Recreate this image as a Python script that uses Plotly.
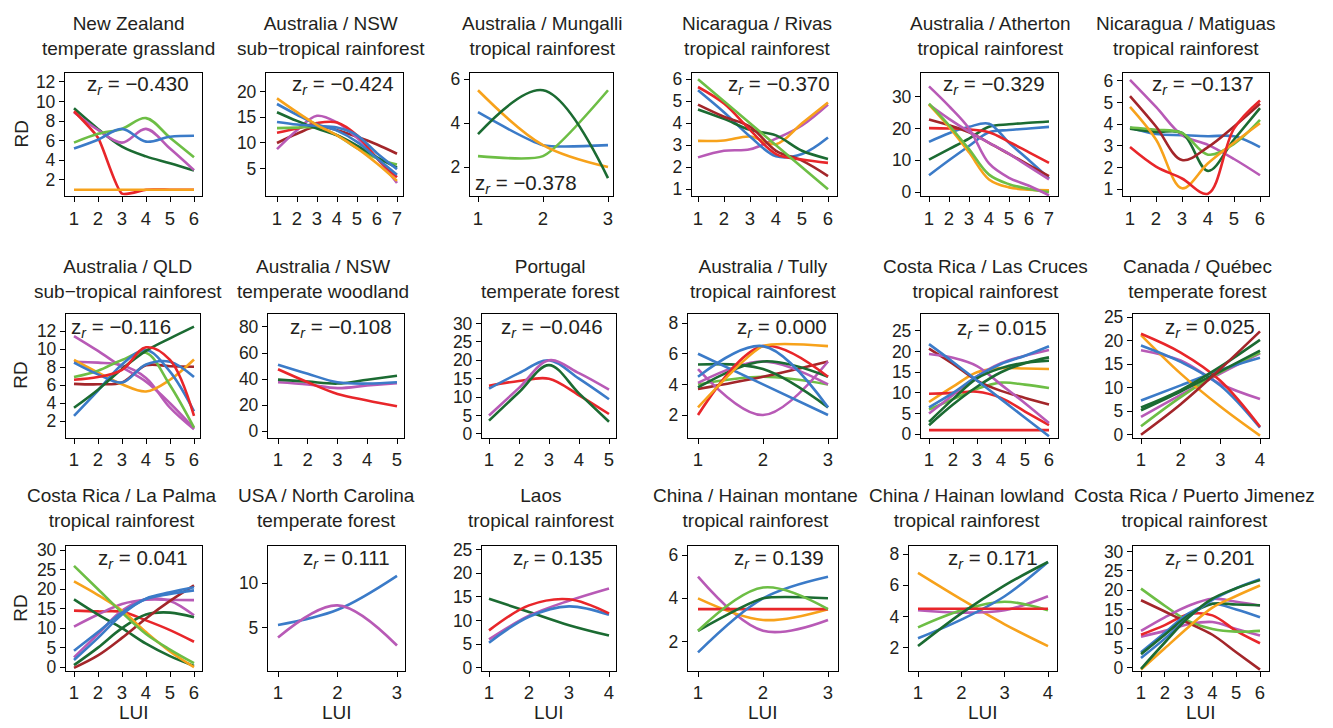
import plotly.graph_objects as go

W, H = 1333, 728
FONT = "Liberation Sans, Arial, Helvetica, sans-serif"
TXT = "#231F20"
COL = dict(red="#E8262A", blue="#3B7BC8", green="#6DBE45", dgreen="#1B6B32",
           orange="#F7A21B", magenta="#B85AB6", dred="#A3262A")

# ---------------- data ----------------
titles = [
    "New Zealand<br>temperate grassland", "Australia / NSW<br>sub\u2212tropical rainforest",
    "Australia / Mungalli<br>tropical rainforest", "Nicaragua / Rivas<br>tropical rainforest",
    "Australia / Atherton<br>tropical rainforest", "Nicaragua / Matiguas<br>tropical rainforest",
    "Australia / QLD<br>sub\u2212tropical rainforest", "Australia / NSW<br>temperate woodland",
    "Portugal<br>temperate forest", "Australia / Tully<br>tropical rainforest",
    "Costa Rica / Las Cruces<br>tropical rainforest", "Canada / Québec<br>temperate forest",
    "Costa Rica / La Palma<br>tropical rainforest", "USA / North Carolina<br>temperate forest",
    "Laos<br>tropical rainforest", "China / Hainan montane<br>tropical rainforest",
    "China / Hainan lowland<br>tropical rainforest", "Costa Rica / Puerto Jimenez<br>tropical rainforest",
]
z_values = ["\u22120.430", "\u22120.424", "\u22120.378", "\u22120.370", "\u22120.329", "\u22120.137",
            "\u22120.116", "\u22120.108", "\u22120.046", "0.000", "0.015", "0.025",
            "0.041", "0.111", "0.135", "0.139", "0.171", "0.201"]
n_levels = [6, 7, 3, 6, 7, 6, 6, 5, 5, 3, 6, 4, 6, 3, 4, 3, 4, 6]

p01 = [("dgreen", [9.3, 7.2, 5.4, 4.4, 3.7, 2.95]),
       ("magenta", [8.9, 7.1, 5.8, 7.2, 5.2, 3.0]),
       ("red", [9.0, 6.3, 0.6, 1.0, 1.0, 1.0]),
       ("green", [5.8, 6.7, 7.2, 8.3, 6.3, 4.3]),
       ("blue", [5.2, 6.1, 7.2, 5.9, 6.4, 6.5]),
       ("orange", [1.0, 1.0, 1.0, 1.0, 1.0, 1.0])]
p02 = [("dred", [10.0, 11.8, 13.2, 12.5, 11.2, 9.7, 7.9]),
       ("magenta", [8.8, 12.5, 15.3, 14.0, 11.0, 7.0, 2.2]),
       ("red", [12.0, 12.8, 13.9, 14.0, 11.5, 7.0, 3.3]),
       ("green", [12.9, 13.0, 13.0, 11.5, 9.0, 7.0, 5.8]),
       ("dgreen", [16.0, 14.3, 12.8, 11.5, 9.5, 7.2, 5.2]),
       ("blue", [14.1, 13.6, 13.3, 13.0, 11.5, 8.0, 4.9]),
       ("blue", [17.6, 15.5, 13.6, 12.4, 10.2, 7.0, 3.8]),
       ("orange", [18.7, 16.0, 13.5, 11.5, 9.0, 6.0, 2.6])]
p03 = [("blue", [4.5, 3.0, 3.0]),
       ("green", [2.5, 2.5, 5.5]),
       ("orange", [5.5, 3.0, 2.0]),
       ("dgreen", [3.5, 5.5, 1.5])]
p04 = [("magenta", [2.45, 2.75, 2.82, 3.3, 3.9, 4.85]),
       ("orange", [3.2, 3.22, 3.4, 3.05, 4.0, 4.95]),
       ("blue", [5.5, 4.5, 3.4, 2.5, 2.6, 3.35]),
       ("dgreen", [4.63, 4.2, 3.7, 3.45, 2.75, 2.38]),
       ("dred", [4.85, 4.3, 3.85, 2.75, 2.3, 1.6]),
       ("red", [5.65, 4.9, 3.7, 2.6, 2.35, 2.2]),
       ("green", [6.0, 5.0, 4.0, 3.0, 2.0, 1.0])]
p05 = [("blue", [5.3, 10.0, 14.5, 18.8, 19.5, 20.0, 20.5]),
       ("dgreen", [10.2, 13.5, 16.8, 20.5, 21.3, 21.8, 22.2]),
       ("blue", [15.8, 18.5, 20.5, 21.5, 15.5, 10.0, 4.3]),
       ("red", [20.1, 20.0, 19.7, 18.8, 15.8, 12.5, 9.2]),
       ("dred", [22.8, 21.0, 18.8, 15.5, 12.0, 8.5, 5.0]),
       ("magenta", [27.5, 23.0, 19.0, 15.5, 12.0, 8.0, 4.0]),
       ("orange", [27.5, 20.5, 12.5, 4.0, 1.5, 0.8, 0.6]),
       ("green", [27.8, 21.0, 13.5, 5.5, 2.5, 1.0, 0.0]),
       ("magenta", [33.2, 27.0, 20.0, 9.0, 4.5, 2.0, -1.0])]
p06 = [("blue", [3.85, 3.55, 3.5, 3.45, 3.45, 2.95]),
       ("magenta", [6.05, 4.8, 3.5, 3.05, 2.4, 1.65]),
       ("dgreen", [3.8, 3.65, 3.6, 1.85, 3.3, 4.75]),
       ("green", [3.85, 3.75, 3.6, 2.6, 3.1, 4.2]),
       ("dred", [5.3, 3.9, 2.35, 2.95, 3.9, 4.95]),
       ("orange", [4.8, 3.3, 1.05, 2.2, 3.15, 4.05]),
       ("red", [2.95, 2.05, 1.5, 0.8, 3.8, 5.1])]
p07 = [("dred", [6.15, 6.1, 6.3, 8.2, 8.1, 8.05]),
       ("magenta", [11.45, 9.8, 8.0, 6.4, 4.0, 1.2]),
       ("magenta", [8.6, 8.5, 8.2, 6.8, 3.5, 1.1]),
       ("orange", [8.8, 7.4, 6.1, 5.3, 6.6, 8.85]),
       ("green", [6.9, 7.6, 8.8, 9.6, 6.0, 1.3]),
       ("blue", [8.5, 7.2, 6.3, 8.3, 8.6, 6.9]),
       ("blue", [2.6, 5.4, 8.3, 9.9, 7.5, 3.1]),
       ("dgreen", [3.5, 5.5, 7.8, 9.8, 11.2, 12.5]),
       ("red", [6.6, 6.9, 7.7, 10.2, 8.8, 2.6])]
p08 = [("magenta", [37.5, 35.8, 33.0, 35.0, 36.8]),
       ("dgreen", [39.5, 38.0, 36.5, 39.5, 42.5]),
       ("blue", [51.0, 44.0, 37.5, 36.5, 37.5]),
       ("red", [47.5, 37.5, 28.5, 23.5, 19.0])]
p09 = [("red", [13.1, 14.4, 15.0, 10.5, 5.4]),
       ("blue", [12.3, 16.5, 20.0, 15.0, 9.4]),
       ("magenta", [5.0, 12.5, 20.0, 16.5, 12.0]),
       ("dgreen", [3.6, 11.3, 18.7, 11.0, 3.3])]
p10 = [("green", [4.0, 4.5, 4.0]),
       ("dred", [3.7, 4.5, 5.5]),
       ("magenta", [4.1, 5.5, 4.0]),
       ("magenta", [5.0, 2.0, 5.5]),
       ("dgreen", [5.3, 5.0, 2.5]),
       ("dgreen", [3.8, 5.5, 4.5]),
       ("blue", [6.0, 4.0, 2.0]),
       ("red", [2.0, 6.5, 4.5]),
       ("orange", [2.5, 6.5, 6.5]),
       ("blue", [4.5, 6.5, 2.5])]
p11 = [("red", [1.0, 1.0, 1.0, 1.0, 1.0, 1.0]),
       ("green", [6.0, 8.5, 11.0, 12.5, 12.0, 11.2]),
       ("orange", [7.8, 11.5, 15.0, 16.0, 15.9, 15.8]),
       ("dred", [20.7, 17.0, 13.0, 10.5, 8.8, 7.2]),
       ("red", [9.8, 10.0, 10.3, 8.8, 5.5, 2.2]),
       ("magenta", [19.4, 18.5, 16.5, 12.0, 7.5, 2.7]),
       ("magenta", [5.0, 9.5, 14.0, 17.2, 19.0, 20.4]),
       ("blue", [6.5, 10.0, 14.0, 17.0, 19.0, 21.3]),
       ("dgreen", [3.0, 8.5, 13.5, 16.0, 17.3, 17.8]),
       ("dgreen", [2.2, 7.2, 11.5, 15.0, 17.2, 18.6]),
       ("blue", [21.8, 17.5, 13.0, 8.5, 4.0, -0.5])]
p12 = [("magenta", [3.8, 8.5, 13.0, 17.3]),
       ("green", [1.8, 8.0, 13.3, 17.5]),
       ("blue", [7.3, 10.5, 13.8, 16.4]),
       ("magenta", [18.0, 15.8, 10.8, 7.6]),
       ("orange", [21.2, 13.0, 6.0, -0.2]),
       ("blue", [19.0, 15.5, 10.5, 1.5]),
       ("red", [21.5, 17.5, 11.5, 1.7]),
       ("dgreen", [5.2, 9.2, 13.5, 17.9]),
       ("dgreen", [5.8, 9.5, 14.5, 20.2]),
       ("dred", [0.0, 6.5, 14.0, 22.0])]
p13 = [("red", [14.5, 14.3, 14.2, 12.0, 9.5, 6.5]),
       ("magenta", [10.4, 13.5, 16.2, 17.3, 17.3, 17.2]),
       ("magenta", [2.5, 8.5, 14.5, 17.5, 17.0, 13.3]),
       ("dgreen", [17.4, 13.5, 10.0, 6.0, 2.8, 0.3]),
       ("dgreen", [0.5, 5.0, 10.0, 13.5, 14.0, 12.8]),
       ("dred", [-0.2, 3.0, 7.5, 12.5, 17.0, 21.0]),
       ("orange", [22.0, 18.5, 14.5, 9.0, 4.0, 0.0]),
       ("green", [26.0, 20.0, 14.0, 8.5, 4.5, 1.0]),
       ("blue", [1.8, 7.5, 13.5, 17.6, 19.2, 20.5]),
       ("blue", [4.2, 9.0, 14.0, 17.5, 18.8, 19.7])]
p14 = [("blue", [5.3, 7.0, 10.8]),
       ("magenta", [3.9, 7.5, 3.0])]
p15 = [("dgreen", [14.6, 11.8, 9.0, 6.8]),
       ("magenta", [6.0, 11.0, 14.2, 16.8]),
       ("blue", [5.3, 10.8, 13.0, 11.2]),
       ("red", [7.9, 13.2, 14.5, 11.5])]
p16 = [("magenta", [5.0, 2.5, 3.0]),
       ("orange", [4.0, 3.0, 3.5]),
       ("red", [3.5, 3.5, 3.5]),
       ("blue", [1.5, 4.0, 5.0]),
       ("dgreen", [2.5, 4.0, 4.0]),
       ("green", [2.5, 4.5, 3.5])]
p17 = [("orange", [6.8, 5.1, 3.5, 2.1]),
       ("magenta", [4.4, 4.25, 4.4, 5.3]),
       ("green", [3.3, 4.4, 4.95, 4.4]),
       ("blue", [2.6, 3.8, 5.3, 7.5]),
       ("red", [4.5, 4.5, 4.5, 4.5]),
       ("dgreen", [2.1, 4.2, 6.0, 7.5])]
p18 = [("magenta", [8.0, 9.5, 11.2, 11.8, 10.0, 8.3]),
       ("red", [8.5, 11.0, 13.8, 13.5, 9.5, 6.3]),
       ("green", [20.4, 16.0, 12.0, 10.0, 9.3, 9.5]),
       ("magenta", [9.5, 13.0, 16.0, 17.8, 17.0, 16.0]),
       ("dred", [17.4, 14.5, 11.5, 8.5, 4.0, -0.5]),
       ("blue", [4.0, 9.0, 14.0, 16.5, 15.0, 13.0]),
       ("dgreen", [3.5, 8.5, 13.5, 16.5, 16.3, 16.1]),
       ("orange", [-0.5, 5.0, 10.5, 15.5, 18.5, 21.2]),
       ("blue", [2.5, 7.5, 13.0, 17.5, 20.5, 22.8]),
       ("dgreen", [-0.3, 6.5, 13.0, 17.8, 20.5, 22.6])]
series = [p01, p02, p03, p04, p05, p06, p07, p08, p09, p10, p11, p12, p13, p14, p15, p16, p17, p18]

y_ticks = [[2, 4, 6, 8, 10, 12], [5, 10, 15, 20], [2, 4, 6], [1, 2, 3, 4, 5, 6],
           [0, 10, 20, 30], [1, 2, 3, 4, 5, 6],
           [2, 4, 6, 8, 10, 12], [0, 20, 40, 60, 80], [0, 5, 10, 15, 20, 25, 30], [2, 4, 6, 8],
           [0, 5, 10, 15, 20, 25], [0, 5, 10, 15, 20, 25],
           [0, 5, 10, 15, 20, 25, 30], [5, 10], [0, 5, 10, 15, 20, 25], [2, 4, 6],
           [2, 4, 6, 8], [0, 5, 10, 15, 20, 25, 30]]

# ---------------- layout geometry (pixels) and styles ----------------
y_ranges = [(0.33, 12.93), (-0.4, 23.7), (0.67, 6.3), (0.68, 6.3), (-1.3, 37.5), (0.68, 6.38),
            (0.19, 13.9), (-5, 90), (-1, 32.6), (0.53, 8.6), (-0.8, 29.1), (-0.6, 25.7),
            (-1, 31), (0.15, 14.1), (-0.7, 25.7), (0.64, 6.4), (0.5, 8.5), (-0.85, 31.3)]
box_x = [(65, 202), (266, 403), (470, 613), (692, 837), (921, 1058), (1123, 1269),
         (66, 200), (268, 404), (482, 616), (688, 837), (921, 1058), (1133, 1269),
         (66, 202), (268, 405), (482, 616), (688, 838), (909, 1057), (1133, 1269)]
data_x = [(74, 194), (277, 397), (478, 608), (698, 828), (929, 1049), (1130, 1260),
          (74, 194), (278, 397), (489, 609), (698, 828), (929, 1049), (1141, 1260),
          (74, 194), (278, 397), (489, 609), (698, 828), (918, 1048), (1141, 1260)]
row_y = [(67, 193), (313, 439), (550, 677)]
title_y = [30, 277, 511]
title_x = [128, 331, 542, 757, 990, 1186,
           128, 323, 550, 763, 985, 1197,
           121, 326, 541, 755, 966, 1194]
z_pos = [(138, 80), (343, 80), (526, 180), (779, 80), (994, 80), (1203, 80),
         (121, 327), (341, 327), (552, 327), (782, 327), (1002, 328), (1210, 327),
         (143, 563), (347, 563), (558, 563), (779, 563), (993, 563), (1210, 563)]
# traces with flat stretches get a gentler spline to avoid overshoot
low_smooth = {(0, 2), (2, 0), (2, 1), (9, 8), (15, 4), (15, 2)}

fig = go.Figure()
annotations = []
layout = {}
for i in range(18):
    n = n_levels[i]
    lui = list(range(1, n + 1))
    ax = "" if i == 0 else str(i + 1)
    row = i // 6
    left, right = box_x[i]
    x1, xn = data_x[i]
    upx = (xn - x1) / (n - 1)
    xr = [1 - (x1 - left) / upx, n + (right - xn) / upx]
    top, bot = row_y[row]
    for j, (cname, vals) in enumerate(series[i]):
        sm = 0.55 if (i, j) in low_smooth else 1.0
        fig.add_trace(go.Scatter(x=lui, y=vals, mode="lines", xaxis="x" + ax, yaxis="y" + ax,
                                 line=dict(color=COL[cname], width=2.6, shape="spline", smoothing=sm),
                                 showlegend=False, hoverinfo="skip"))
    common = dict(showline=True, mirror=True, linecolor="black", linewidth=1.3, ticks="outside",
                  ticklen=5, tickwidth=1.2, tickcolor="black", showgrid=False, zeroline=False)
    layout["xaxis" + ax] = dict(domain=[left / W, right / W], range=xr, anchor="y" + ax,
                                tickmode="array", tickvals=lui,
                                tickfont=dict(family=FONT, size=18.5, color=TXT), **common)
    layout["yaxis" + ax] = dict(domain=[1 - bot / H, 1 - top / H], range=list(y_ranges[i]),
                                anchor="x" + ax, tickmode="array", tickvals=y_ticks[i],
                                tickfont=dict(family=FONT, size=17.5, color=TXT), **common)
    annotations.append(dict(x=title_x[i] / W, y=1 - title_y[row] / H, xref="paper", yref="paper",
                            text=titles[i], showarrow=False, xanchor="center", yanchor="middle",
                            font=dict(family=FONT, size=19, color=TXT)))
    zx, zy = z_pos[i]
    annotations.append(dict(x=zx / W, y=1 - zy / H, xref="paper", yref="paper",
                            text="z<sub><i>r</i></sub> = " + z_values[i], showarrow=False,
                            xanchor="center", yanchor="middle",
                            font=dict(family=FONT, size=20.5, color=TXT)))
    if i % 6 == 0:
        annotations.append(dict(x=21 / W, y=1 - (top + bot) / 2 / H, xref="paper", yref="paper",
                                text="RD", textangle=-90, showarrow=False, xanchor="center",
                                yanchor="middle", font=dict(family=FONT, size=19, color=TXT)))
    if row == 2:
        annotations.append(dict(x=(left + right) / 2 / W, y=1 - 719 / H, xref="paper", yref="paper",
                                text="LUI", showarrow=False, xanchor="center", yanchor="middle",
                                font=dict(family=FONT, size=19, color=TXT)))

fig.update_layout(width=W, height=H, margin=dict(l=0, r=0, t=0, b=0),
                  paper_bgcolor="white", plot_bgcolor="white",
                  annotations=annotations, **layout)
fig.write_html("out.html", config={"displayModeBar": False},
               post_script="document.body.style.margin='0';document.body.style.overflow='hidden';")
